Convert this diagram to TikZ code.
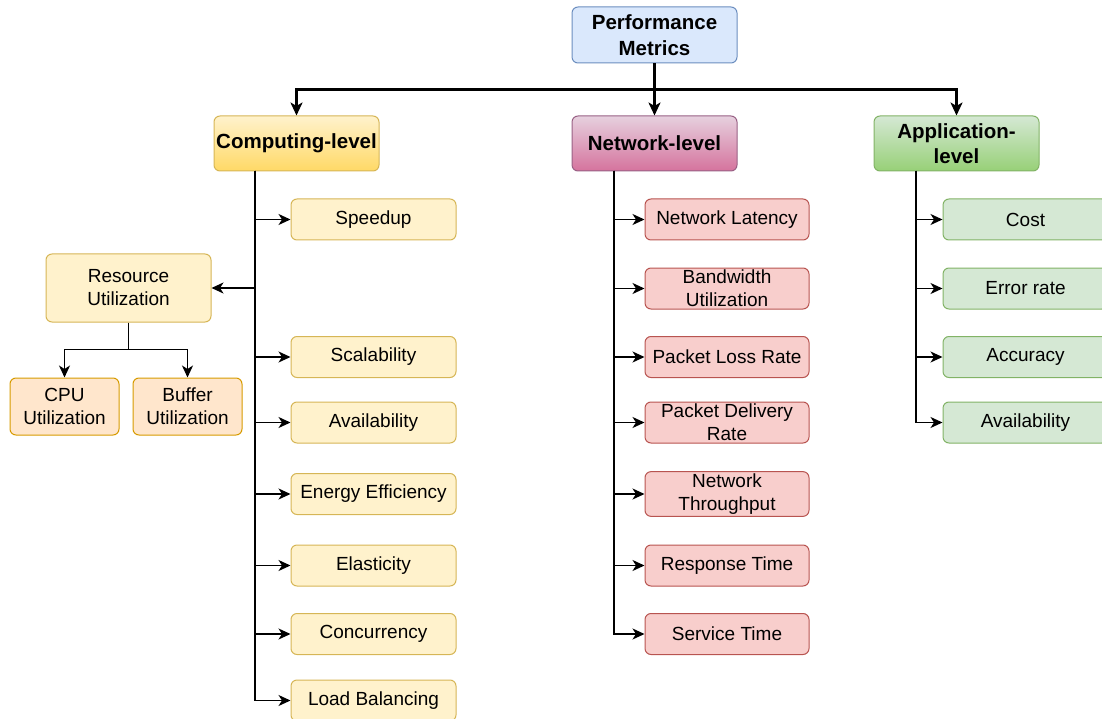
\documentclass[tikz,border=0pt]{standalone}
\usepackage{fontspec}
\setmainfont{Liberation Sans}
\usetikzlibrary{arrows.meta,positioning}
\definecolor{yfill}{HTML}{FFF2CC}\definecolor{ydraw}{HTML}{D6B656}
\definecolor{rfill}{HTML}{F8CECC}\definecolor{rdraw}{HTML}{B85450}
\definecolor{gfill}{HTML}{D5E8D4}\definecolor{gdraw}{HTML}{82B366}
\definecolor{bfill}{HTML}{DAE8FC}\definecolor{bdraw}{HTML}{6C8EBF}
\definecolor{ofill}{HTML}{FFE6CC}\definecolor{odraw}{HTML}{D79B00}
\definecolor{ytop}{HTML}{FFF2CC}\definecolor{ybot}{HTML}{FFD966}
\definecolor{ptop}{HTML}{E6D0DE}\definecolor{pbot}{HTML}{D5739D}\definecolor{pdraw}{HTML}{996185}
\definecolor{gtop}{HTML}{D5E8D4}\definecolor{gbot}{HTML}{97D077}
\tikzset{
  x=1pt,y=-1pt,
  box/.style={rectangle,rounded corners=6pt,line width=1pt,align=center,inner sep=2pt,
    font=\fontsize{19}{23}\selectfont,text=black},
  child/.style={box,minimum width=165pt,minimum height=41pt},
  ychild/.style={child,fill=yfill,draw=ydraw},
  rchild/.style={child,fill=rfill,draw=rdraw},
  gchild/.style={child,fill=gfill,draw=gdraw},
  lvl/.style={box,minimum width=165pt,minimum height=55pt,font=\fontsize{20.5}{25}\selectfont\bfseries},
  arr/.style={line width=1.5pt,-{Stealth[length=12pt,width=11pt,inset=3.5pt]}},
  bigarr/.style={line width=2.6pt,-{Stealth[length=13pt,width=12pt,inset=3.5pt]}},
  trunk/.style={line width=1.8pt}
}
\begin{document}
\begin{tikzpicture}
\useasboundingbox (0,0) rectangle (1102,719);
% root
\node[box,minimum width=165pt,minimum height=56pt,fill=bfill,draw=bdraw,font=\fontsize{20.5}{26}\selectfont\bfseries] (pm) at (654.5,35) {Performance\\Metrics};
% levels
\node[lvl,top color=ytop,bottom color=ybot,draw=ydraw] (comp) at (296.5,143.5) {Computing-level};
\node[lvl,top color=ptop,bottom color=pbot,draw=pdraw] (net) at (654.5,143.5) {Network-level};
\node[lvl,top color=gtop,bottom color=gbot,draw=gdraw] (app) at (956.5,143.5) {Application-\\level};
\draw[bigarr] (pm.south) -- (net.north);
\draw[bigarr] (pm.south) -- ++(0,26) -| (comp.north);
\draw[bigarr] (pm.south) -- ++(0,26) -| (app.north);
% computing children
\node[ychild] (c1) at (373.5,219.5) {Speedup};
\node[ychild] (c2) at (373.5,357) {Scalability};
\node[ychild] (c3) at (373.5,422.5) {Availability};
\node[ychild] (c4) at (373.5,494) {Energy Efficiency};
\node[ychild] (c5) at (373.5,565.5) {Elasticity};
\node[ychild] (c6) at (373.5,634) {Concurrency};
\node[ychild] (c7) at (373.5,700.5) {Load Balancing};
\node[box,minimum width=165pt,minimum height=68pt,fill=yfill,draw=ydraw] (ru) at (128.5,288) {Resource\\Utilization};
\node[box,minimum width=109pt,minimum height=57pt,fill=ofill,draw=odraw] (cpu) at (64.5,406.5) {CPU\\Utilization};
\node[box,minimum width=109pt,minimum height=57pt,fill=ofill,draw=odraw] (buf) at (187.5,406.5) {Buffer\\Utilization};
\coordinate (ct) at (255,171);
\draw[trunk] (ct) -- (255,700.5);
\foreach \n in {c1,c2,c3,c4,c5,c6,c7} \draw[arr] (ct) |- (\n.west);
\draw[arr] (ct) |- (ru.east);
\draw[arr] (ru.south) -- ++(0,27) -| (cpu.north);
\draw[arr] (ru.south) -- ++(0,27) -| (buf.north);
% network children
\node[rchild,minimum width=164pt] (n1) at (727,219.5) {Network Latency};
\node[rchild,minimum width=164pt] (n2) at (727,288.5) {Bandwidth\\Utilization};
\node[rchild,minimum width=164pt] (n3) at (727,357) {Packet Loss Rate};
\node[rchild,minimum width=164pt] (n4) at (727,422.5) {Packet Delivery\\Rate};
\node[rchild,minimum width=164pt] (n5) at (727,494) {Network\\Throughput};
\node[rchild,minimum width=164pt] (n6) at (727,565.5) {Response Time};
\node[rchild,minimum width=164pt] (n7) at (727,634) {Service Time};
\coordinate (nt) at (614,171);
\draw[trunk] (nt) -- (614,634);
\foreach \n in {n1,n2,n3,n4,n5,n6,n7} \draw[arr] (nt) |- (\n.west);
% application children
\node[gchild] (a1) at (1025.5,219.5) {Cost};
\node[gchild] (a2) at (1025.5,288.5) {Error rate};
\node[gchild] (a3) at (1025.5,357) {Accuracy};
\node[gchild] (a4) at (1025.5,422.5) {Availability};
\coordinate (at) at (916,171);
\draw[trunk] (at) -- (916,422.5);
\foreach \n in {a1,a2,a3,a4} \draw[arr] (at) |- (\n.west);
\end{tikzpicture}
\end{document}
